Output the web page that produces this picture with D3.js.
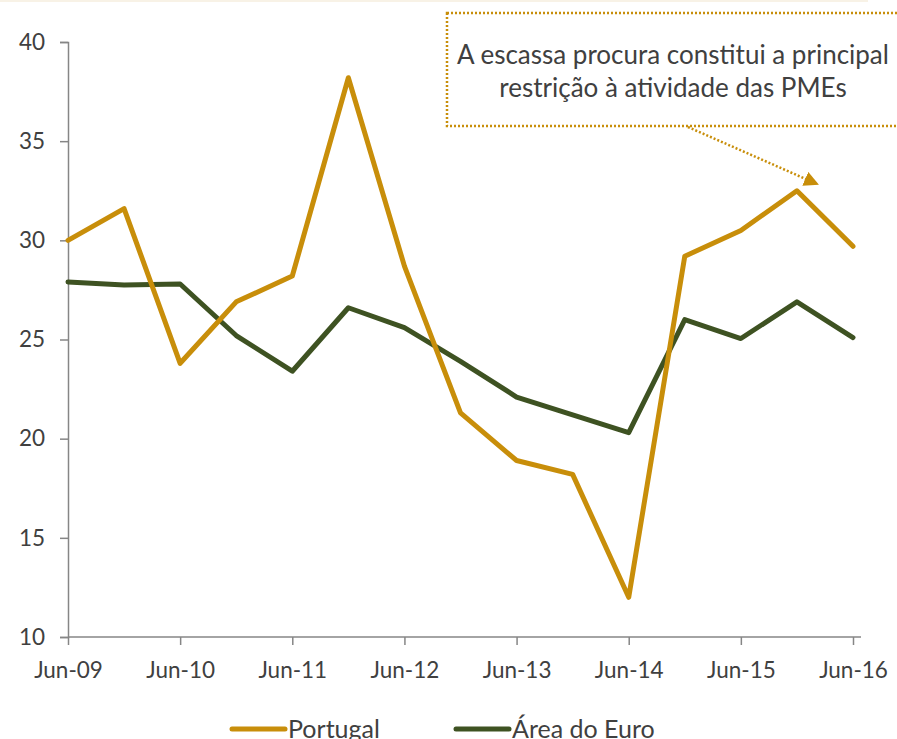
<!DOCTYPE html>
<html>
<head>
<meta charset="utf-8">
<script src="https://cdn.jsdelivr.net/npm/d3@7"></script>
<style>
  body { margin: 0; background: #fff; }
  svg { display: block; font-family: "Lato", "Open Sans", sans-serif; }
</style>
</head>
<body>
<svg id="chart" width="897" height="739"></svg>
<script>
// semi-annual periods, Jun-09 .. Jun-16
var periods = ["Jun-09","Dec-09","Jun-10","Dec-10","Jun-11","Dec-11","Jun-12","Dec-12",
               "Jun-13","Dec-13","Jun-14","Dec-14","Jun-15","Dec-15","Jun-16"]
var tick_labels = ["Jun-09","Jun-10","Jun-11","Jun-12","Jun-13","Jun-14","Jun-15","Jun-16"]
var portugal = [30.0, 31.6, 23.8, 26.9, 28.2, 38.2, 28.7, 21.3, 18.9, 18.2, 12.0, 29.2, 30.5, 32.5, 29.7]
var euro_area = [27.9, 27.75, 27.8, 25.2, 23.4, 26.6, 25.6, 23.9, 22.1, 21.2, 20.3, 26.0, 25.05, 26.9, 25.1]
var series_names = ["Portugal", "Área do Euro"]
var y_ticks = [10, 15, 20, 25, 30, 35, 40]
var note_lines = ["A escassa procura constitui a principal", "restrição à atividade das PMEs"]

var gold = "#C88E0A"
var olive = "#3E5222"
var axis_color = "#868686"
var text_color = "#404040"

var svg = d3.select("#chart")

// thin band at the very top
svg.append("rect")
    .attr("x", 0).attr("y", 0)
    .attr("width", 868).attr("height", 2)
    .attr("fill", "#f8f2e6")

var x = d3.scalePoint().domain(periods).range([68, 853])
var y = d3.scaleLinear().domain([10, 40]).range([637, 42])

// y axis
var y_axis = svg.append("g")
    .attr("transform", "translate(68,0)")
    .call(d3.axisLeft(y).tickValues(y_ticks).tickSize(8).tickPadding(15))
y_axis.select(".domain").attr("stroke", axis_color).attr("stroke-width", 1.5)
y_axis.selectAll(".tick line").attr("stroke", axis_color).attr("stroke-width", 1.5)
y_axis.selectAll(".tick text")
    .attr("fill", text_color)
    .attr("font-size", 22.5)
    .attr("font-family", "Lato, sans-serif")

// x axis
var x_axis = svg.append("g")
    .attr("transform", "translate(0,637)")
    .call(d3.axisBottom(x).tickValues(tick_labels).tickSize(8).tickSizeOuter(0).tickPadding(17))
x_axis.select(".domain").attr("stroke", axis_color).attr("stroke-width", 1.5)
    .attr("d", "M68,0H861")
x_axis.selectAll(".tick line").attr("stroke", axis_color).attr("stroke-width", 1.5)
x_axis.selectAll(".tick text")
    .attr("fill", text_color)
    .attr("font-size", 22.5)
    .attr("font-family", "Lato, sans-serif")

// lines
var line = d3.line()
    .x(function(d, i){ return x(periods[i]) })
    .y(function(d){ return y(d) })

var all_series = [
    {name: series_names[0], values: portugal, color: gold},
    {name: series_names[1], values: euro_area, color: olive}
]

// draw euro first so Portugal is on top
svg.selectAll("path.series")
    .data(all_series.slice().reverse())
    .enter().append("path")
    .attr("class", "series")
    .attr("d", function(d){ return line(d.values) })
    .attr("fill", "none")
    .attr("stroke", function(d){ return d.color })
    .attr("stroke-width", 5)
    .attr("stroke-linejoin", "round")
    .attr("stroke-linecap", "round")

// annotation box
svg.append("rect")
    .attr("x", 447).attr("y", 13)
    .attr("width", 470).attr("height", 113)
    .attr("fill", "none")
    .attr("stroke", gold)
    .attr("stroke-width", 2.5)
    .attr("stroke-dasharray", "2,2")

svg.selectAll("text.note")
    .data(note_lines)
    .enter().append("text")
    .attr("class", "note")
    .attr("x", 673)
    .attr("y", function(d, i){ return 64 + i * 33 })
    .attr("text-anchor", "middle")
    .attr("fill", text_color)
    .attr("font-size", 26)
    .text(function(d){ return d })

// arrow
svg.append("defs").append("marker")
    .attr("id", "arrow_head")
    .attr("viewBox", "0 0 10 10")
    .attr("refX", 2).attr("refY", 5)
    .attr("markerWidth", 6).attr("markerHeight", 6)
    .attr("markerUnits", "strokeWidth")
    .attr("orient", "auto")
    .append("path")
    .attr("d", "M0,0L10,5L0,10Z")
    .attr("fill", gold)

svg.append("line")
    .attr("x1", 688).attr("y1", 127)
    .attr("x2", 808).attr("y2", 180)
    .attr("stroke", gold)
    .attr("stroke-width", 2.5)
    .attr("stroke-dasharray", "2,2")
    .attr("marker-end", "url(#arrow_head)")

// legend
var legend_x = [230, 454]
var legend = svg.selectAll("g.legend")
    .data(all_series)
    .enter().append("g")
    .attr("class", "legend")
    .attr("transform", function(d, i){ return "translate(" + legend_x[i] + ",729)" })

legend.append("line")
    .attr("x1", 2).attr("x2", 55)
    .attr("y1", 0).attr("y2", 0)
    .attr("stroke", function(d){ return d.color })
    .attr("stroke-width", 5)
    .attr("stroke-linecap", "round")

legend.append("text")
    .attr("x", 58)
    .attr("y", 9)
    .attr("fill", text_color)
    .attr("font-size", 25)
    .text(function(d){ return d.name })
</script>
</body>
</html>
